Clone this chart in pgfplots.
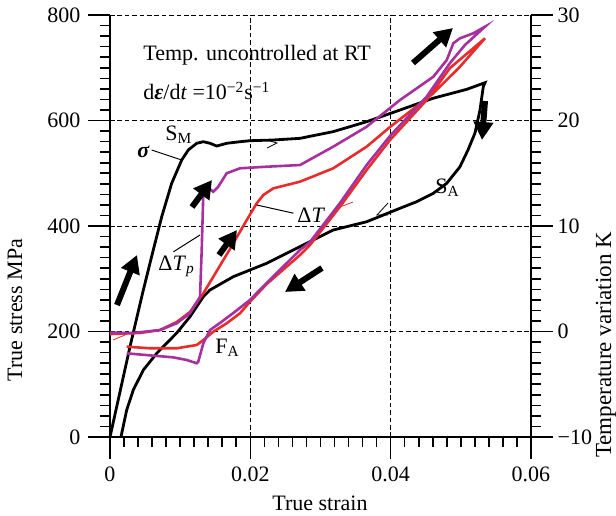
\documentclass[border=0pt]{standalone}
\usepackage{pgfplots}
\pgfplotsset{compat=1.18}
\usepackage{fontspec}
\setmainfont{Liberation Serif}
\usetikzlibrary{arrows.meta}
\definecolor{cred}{RGB}{232,44,44}
\definecolor{cpur}{RGB}{168,48,158}

\pgfplotstableread{
x y
0 0
0.00285 171.2
0.00475 278.7
0.00617 354.5
0.00737 417.6
0.00879 480.9
0.01022 525.1
0.01116 544.1
0.01236 556.8
0.01330 559.8
0.01425 556.8
0.01521 551.6
0.01663 556.8
0.01853 559.8
0.01995 561.7
0.02323 563.0
0.02708 566.2
0.03178 578.8
0.03658 597.7
0.04133 619.9
0.04603 642.1
0.05084 659.1
0.05344 671.6
0.05320 664.1
0.05273 619.9
0.05202 576.3
0.05102 544.1
0.04988 512.4
0.04799 480.9
0.04608 462.0
0.04371 446.1
0.04133 433.6
0.03895 420.8
0.03658 408.1
0.03182 392.4
0.02708 360.8
0.02233 329.3
0.01757 303.9
0.01425 278.7
0.01330 266.0
0.01140 228.1
0.00951 197.2
0.00666 158.7
0.00475 127.0
0.00332 89.1
0.00238 51.2
0.00157 0.6
}\stress

\pgfplotstableread{
x t
0 -0.24
0.00428 -0.14
0.00713 0.14
0.00951 0.90
0.01140 1.85
0.01330 3.62
0.01496 5.45
0.01710 7.82
0.01924 10.28
0.02091 12.15
0.02185 12.94
0.02327 13.57
0.02708 14.20
0.03182 15.47
0.03658 17.52
0.03990 19.38
0.04608 22.58
0.04988 25.10
0.05344 27.79
0.04846 24.98
0.04513 21.94
0.03990 18.15
0.03658 15.31
0.03278 11.83
0.02850 8.20
0.02708 7.25
0.02233 4.50
0.01995 2.82
0.01853 1.73
0.01663 0.78
0.01472 -0.02
0.01330 -0.81
0.01236 -1.28
0.00951 -1.59
0.00570 -1.59
0.00238 -1.44
}\redT

\pgfplotstableread{
x t
0 -0.11
0.00328 -0.14
0.00713 0.14
0.00951 0.78
0.01140 1.73
0.01283 3.30
0.01307 7.73
0.01330 13.10
0.01378 13.73
0.01472 13.25
0.01543 13.73
0.01663 15.00
0.01853 15.47
0.02233 15.62
0.02708 15.78
0.03182 17.52
0.03658 19.41
0.04133 21.94
0.04608 24.15
0.04799 25.73
0.04893 27.32
0.04988 27.79
0.05178 28.27
0.05344 28.89
0.05059 27.16
0.04846 25.45
0.04513 22.26
0.03990 18.53
0.03658 15.78
0.03278 12.18
0.02850 8.48
0.02708 7.73
0.02233 4.60
0.01995 2.99
0.01757 1.75
0.01568 0.81
0.01425 0.14
0.01330 -1.12
0.01258 -2.86
0.01236 -3.01
0.01093 -2.70
0.00902 -2.45
0.00617 -2.29
0.00238 -2.07
}\purT

\begin{document}
\fontsize{11}{13}\selectfont
\begin{tikzpicture}[font=\fontsize{11}{13}\selectfont]
\path[use as bounding box] (-55pt,-39pt) rectangle (253pt,218.5pt);
\pgfplotsset{common/.style={scale only axis, width=210.5pt, height=211pt,
  at={(0pt,0pt)}, anchor=south west, xmin=0, xmax=0.06,
  scaled x ticks=false, scaled y ticks=false,
  tick align=outside, major tick length=11pt, minor tick length=5pt,
  every tick/.style={black, line width=0.8pt},
  axis line style={line width=1pt},
  /pgf/number format/assume math mode=true,
  tick label style={font=\fontsize{11}{13}\selectfont},
  clip=false}}
\begin{axis}[common, ymin=0, ymax=800,
  axis x line*=bottom, axis y line*=left,
  xtick={0,0.02,0.04,0.06}, xticklabels={0,0.02,0.04,0.06},
  minor x tick num=9,
  ytick={0,200,400,600,800}, yticklabels={0,200,400,600,800},
  minor y tick num=9,
  grid=major, major grid style={black, line width=0.5pt, dash pattern=on 2.3pt off 1.4pt}]
\addplot[black, line width=1.4pt] table[x=x,y=y] {\stress};
\end{axis}
\begin{axis}[common, ymin=-10, ymax=30,
  axis x line=none, axis y line*=right,
  ytick={-10,0,10,20,30}, yticklabels={−10,0,10,20,30},
  yticklabel style={xshift=-1.5pt},
  minor y tick num=9]
\addplot[cred, line width=1.3pt] table[x=x,y=t] {\redT};
\addplot[cpur, line width=1.3pt] table[x=x,y=t] {\purT};
\end{axis}
% axis labels
\node at (105pt,-33pt) {True strain};
\node[rotate=90] at (-47.5pt,63.5pt) {True stress MPa};
\node[rotate=90, font=\fontsize{11.5}{13.5}\selectfont] at (248pt,46pt) {Temperature variation K};
% annotations
\node[anchor=base west, inner sep=0] at (16.5pt,188.5pt) {Temp. uncontrolled at RT};
\node[anchor=base west, inner sep=0] at (16.5pt,168.5pt) {d\textbf{\textit{ε}}/d\textit{t} =10\textsuperscript{−2}s\textsuperscript{−1}};
\node[anchor=base west, inner sep=0] at (27.5pt,148.5pt) {S\textsubscript{M}};
\node[anchor=base west, inner sep=0] at (13.5pt,140pt) {\textbf{\textit{σ}}};
\draw[line width=0.5pt] (20.8pt,143.5pt) -- (35.8pt,138.5pt);
\node[anchor=base west, inner sep=0] at (24pt,83.5pt) {Δ\textit{T}\textsubscript{\textit{p}}};
\draw[line width=0.5pt] (31.7pt,92.6pt) -- (45pt,101pt);
\node[anchor=base west, inner sep=0] at (93.5pt,107.5pt) {Δ\textit{T}};
\draw[line width=0.5pt] (73.4pt,116pt) -- (91.7pt,111.9pt);
\node[anchor=base west, inner sep=0] at (162.5pt,122pt) {S\textsubscript{A}};
\node[anchor=base west, inner sep=0] at (52.5pt,42pt) {F\textsubscript{A}};
% small marks
\draw[line width=0.4pt] (78.5pt,144.5pt) -- (83.5pt,147pt) -- (80pt,148pt);
\draw[line width=0.4pt] (139pt,117pt) -- (133.5pt,111pt) -- (139pt,111pt);
\draw[cred, line width=0.4pt] (115pt,115pt) -- (121.5pt,117.5pt);
\draw[cred, line width=0.4pt] (1.5pt,48.5pt) -- (7.5pt,51pt);
% arrows
\begin{scope}[line width=3pt, -{Triangle[length=9pt,width=9.5pt]}]
\draw (3.5pt,66pt) -- (13.5pt,91pt);
\draw (41pt,115pt) -- (51pt,128.5pt);
\draw (54.5pt,91pt) -- (63.5pt,103.5pt);
\draw (106pt,84.5pt) -- (87.5pt,72.5pt);
\draw (151.5pt,187pt) -- (171.5pt,204.5pt);
\draw (187.5pt,168pt) -- (186pt,148.5pt);
\end{scope}
\end{tikzpicture}
\end{document}
